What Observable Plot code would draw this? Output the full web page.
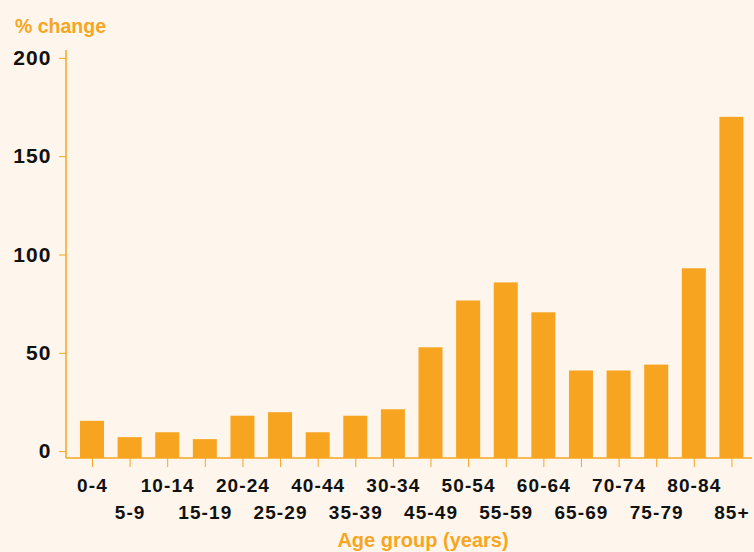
<!DOCTYPE html>
<html>
<head>
<meta charset="utf-8">
<script src="https://cdn.jsdelivr.net/npm/d3@7"></script>
<script src="https://cdn.jsdelivr.net/npm/@observablehq/plot@0.6"></script>
<style>
  html, body { margin: 0; padding: 0; background: #fef6ec; }
  body { width: 754px; height: 552px; overflow: hidden; position: relative; font-family: "Liberation Sans", Arial, sans-serif; }
  #title { height: 45px; box-sizing: border-box; padding: 16px 0 0 15px; font-size: 19.5px; line-height: 20px; font-weight: bold; color: #f6a623; }
  #xlabel { position: absolute; left: 423px; top: 528px; transform: translateX(-50%); font-size: 20px; line-height: 24px; font-weight: bold; color: #f6a623; white-space: nowrap; }
  #chart svg text { letter-spacing: 1.1px; }
</style>
</head>
<body>
<div id="title">% change</div>
<div id="chart"></div>
<div id="xlabel">Age group (years)</div>
<script>
const ages = ["0-4","5-9","10-14","15-19","20-24","25-29","40-44","35-39","30-34","45-49","50-54","55-59","60-64","65-69","70-74","75-79","80-84","85+"];
const values = [15.4, 7.1, 9.6, 6.1, 18, 19.8, 9.6, 18, 21.3, 52.8, 76.6, 85.8, 70.6, 41, 41, 44, 93, 170];
const yTicks = [0, 50, 100, 150, 200];

const orange = "#f7a520";
const data = ages.map((age, i) => ({age, value: values[i], i}));

// axis lines drawn along the frame's left and bottom edges
function axisLines(index, scales, values, dims) {
  const g = d3.create("svg:g").attr("stroke", orange).attr("stroke-width", 1.5);
  const x0 = dims.marginLeft, x1 = dims.width - dims.marginRight;
  const y0 = dims.marginTop, y1 = dims.height - dims.marginBottom;
  g.append("line").attr("x1", x0).attr("x2", x0).attr("y1", y0).attr("y2", y1);
  g.append("line").attr("x1", x0).attr("x2", x1).attr("y1", y1).attr("y2", y1);
  return g.node();
}

const chart = Plot.plot({
  width: 754,
  height: 480,
  marginLeft: 66,
  marginRight: 2,
  marginTop: 5,
  marginBottom: 67,
  style: {background: "transparent", fontFamily: "'Liberation Sans', Arial, sans-serif", fontWeight: "bold", fontSize: "19px", color: "#111"},
  x: {domain: ages, paddingInner: 0.362, paddingOuter: 0.3, align: 0.62, round: false, label: null},
  y: {domain: [-3.5, 204], label: null},
  marks: [
    Plot.barY(data, {x: "age", y1: -3.5, y2: "value", fill: orange}),
    Plot.axisY({ticks: yTicks, tickSize: 7, tickPadding: 8, stroke: orange, fill: "#111", fontSize: 21, label: null}),
    Plot.axisX({tickSize: 9, tickFormat: () => "", stroke: orange, label: null}),
    axisLines,
    Plot.text(data.filter(d => d.i % 2 === 0), {x: "age", text: "age", frameAnchor: "bottom", dy: 27, lineAnchor: "middle", fontSize: 19, fill: "#111"}),
    Plot.text(data.filter(d => d.i % 2 === 1), {x: "age", text: "age", frameAnchor: "bottom", dy: 54, lineAnchor: "middle", fontSize: 19, fill: "#111"})
  ]
});
document.getElementById("chart").appendChild(chart);
</script>
</body>
</html>
